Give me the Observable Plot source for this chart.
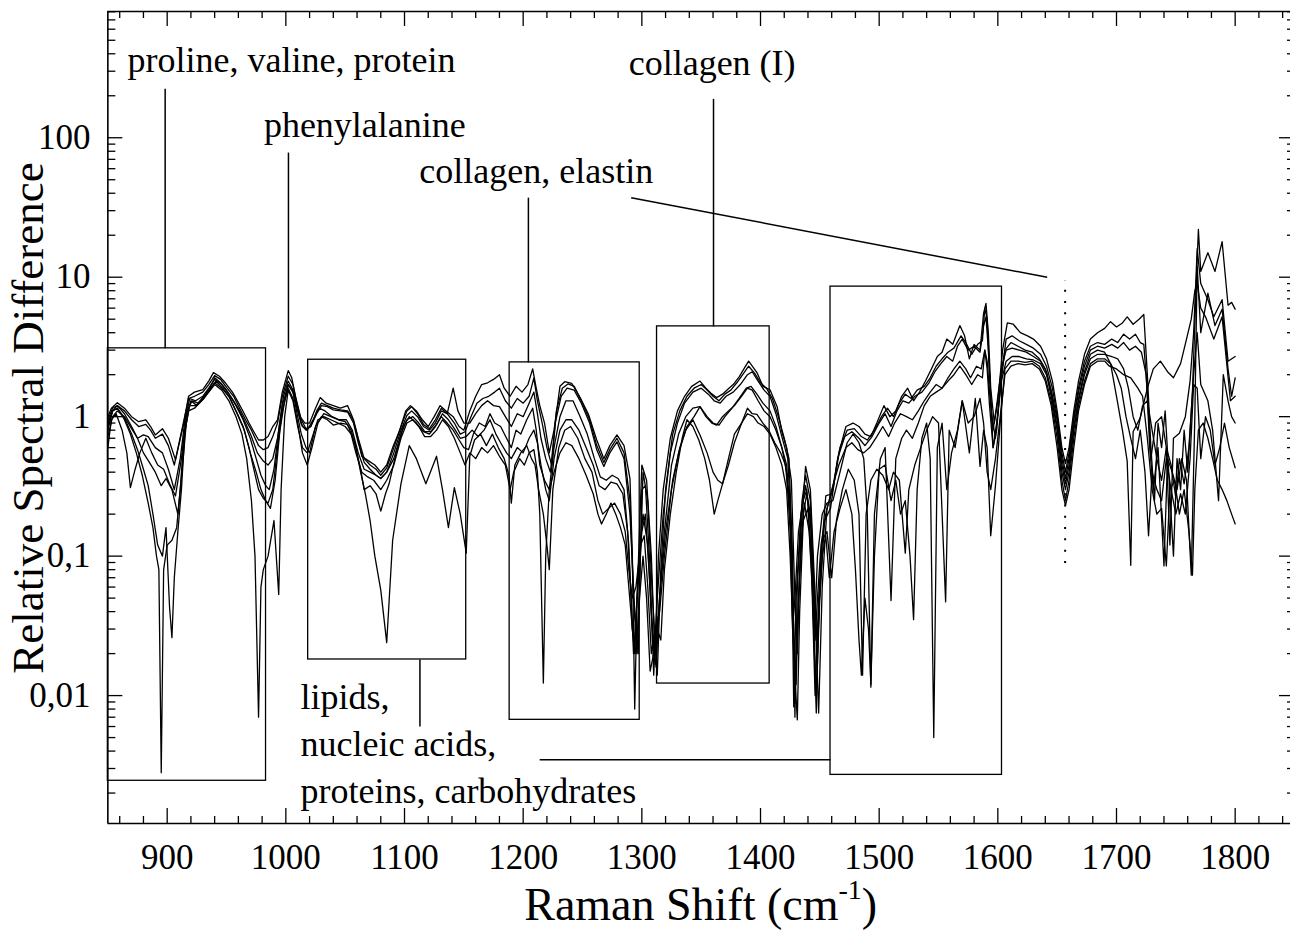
<!DOCTYPE html>
<html><head><meta charset="utf-8">
<script src="https://cdn.jsdelivr.net/npm/d3@7"></script>
<script src="https://cdn.jsdelivr.net/npm/@observablehq/plot@0.6"></script>
<style>html,body{margin:0;padding:0;background:#fff;overflow:hidden;width:1290px} #chart{width:1290px} #chart svg{overflow:hidden;display:block;font-family:"Liberation Serif","Times New Roman",serif}</style>
</head><body><div id="chart"></div>
<script>
// ---- spectra: [Raman shift (cm-1), relative spectral difference] ----
const s1 = [[850,1.0],[853,1.15],[858,1.26],[864,1.15],[870,1.0],[876,0.92],[882,0.95],[886,0.85],[890,0.74],[896,0.82],[901,0.7],[907,0.49],[914,0.9],[918,1.4],[923,1.5],[930,1.56],[935,1.8],[939,2.07],[944,1.95],[949,1.75],[955,1.5],[960,1.26],[965,1.05],[969,0.9],[973,0.78],[977,0.68],[981,0.68],[985,0.72],[989,0.85],[993,0.95],[997,1.5],[1002,2.14],[1005,1.9],[1008,1.4],[1012,1.0],[1016,0.9],[1020,0.9],[1025,1.15],[1029,1.37],[1034,1.25],[1040,1.2],[1046,1.15],[1052,1.2],[1056,1.0],[1060,0.75],[1064,0.52],[1070,0.48],[1075,0.45],[1080,0.4],[1085,0.45],[1090,0.6],[1096,0.8],[1101,1.1],[1105,1.2],[1110,1.1],[1115,0.95],[1120,0.85],[1125,1.0],[1130,1.2],[1135,1.1],[1141,1.0],[1146,0.85],[1150,0.8],[1155,1.1],[1160,1.4],[1165,1.7],[1170,1.75],[1175,1.85],[1180,2.0],[1184,1.6],[1189,1.4],[1194,1.65],[1199,1.5],[1204,1.7],[1208,2.2],[1211,1.6],[1214,1.2],[1218,0.9],[1222,0.55],[1226,0.8],[1231,1.65],[1235,1.78],[1241,1.73],[1248,1.37],[1255,1.04],[1262,0.68],[1268,0.5],[1273,0.62],[1279,0.74],[1285,0.62],[1290,0.36],[1292,0.1],[1294,0.008],[1296,0.05],[1300,0.45],[1304,0.35],[1308,0.1],[1311,0.02],[1314,0.1],[1318,0.3],[1324,0.7],[1330,1.1],[1336,1.4],[1342,1.65],[1349,1.8],[1354,1.6],[1358,1.48],[1363,1.37],[1368,1.45],[1372,1.56],[1377,1.7],[1382,1.93],[1386,2.2],[1390,2.5],[1394,2.25],[1397,2.07],[1402,1.65],[1408,1.56],[1414,1.18],[1418,0.78],[1422,0.6],[1426,0.35],[1429,0.05],[1431,0.02],[1434,0.15],[1438,0.44],[1442,0.3],[1445,0.08],[1448,0.02],[1451,0.1],[1455,0.27],[1460,0.28],[1466,0.55],[1472,0.85],[1478,0.9],[1483,0.85],[1488,0.75],[1493,0.72],[1498,0.9],[1504,1.2],[1509,1.0],[1514,1.1],[1519,1.4],[1524,1.6],[1529,1.3],[1534,1.5],[1539,1.8],[1544,2.2],[1549,2.7],[1553,2.9],[1557,3.6],[1562,3.3],[1568,4.5],[1572,3.8],[1576,2.6],[1580,3.3],[1585,3.0],[1588,5.5],[1590,6.5],[1592,4.0],[1594,1.6],[1597,0.9],[1600,1.3],[1604,3.0],[1608,4.7],[1613,4.6],[1619,4.0],[1625,3.8],[1630,3.6],[1636,3.2],[1641,2.6],[1646,1.8],[1650,1.1],[1654,0.6],[1657,0.46],[1660,0.6],[1664,1.1],[1668,1.8],[1673,2.8],[1678,3.6],[1684,4.0],[1690,4.3],[1695,4.8],[1700,4.4],[1705,4.7],[1709,5.2],[1714,4.6],[1719,5.0],[1723,5.4],[1726,2.0],[1729,0.6],[1732,0.25],[1735,0.9],[1738,0.6],[1741,1.1],[1744,0.4],[1748,0.1],[1751,0.5],[1754,0.3],[1757,0.8],[1760,0.4],[1764,1.5],[1767,8],[1769,22],[1771,11],[1777,15],[1783,11],[1789,18],[1794,6.3],[1797,6.6],[1800,5.9]];

const s2 = [[850,0.85],[854,1.1],[858,1.2],[864,1.1],[870,0.95],[876,0.85],[882,0.88],[886,0.8],[890,0.7],[896,0.75],[901,0.62],[906,0.45],[913,0.85],[918,1.35],[923,1.4],[930,1.5],[935,1.7],[940,1.97],[945,1.85],[950,1.62],[956,1.4],[961,1.15],[966,0.95],[971,0.8],[977,0.62],[981,0.58],[985,0.6],[989,0.72],[993,0.9],[997,1.4],[1002,1.95],[1006,1.7],[1009,1.3],[1013,0.95],[1017,0.82],[1021,0.85],[1026,1.1],[1030,1.25],[1035,1.2],[1040,1.15],[1046,1.12],[1052,1.1],[1057,0.95],[1061,0.7],[1066,0.5],[1071,0.45],[1076,0.42],[1080,0.38],[1085,0.43],[1091,0.6],[1097,0.85],[1102,1.1],[1106,1.18],[1111,1.05],[1116,0.88],[1121,0.82],[1126,0.95],[1131,1.15],[1136,1.05],[1142,0.9],[1147,0.75],[1151,0.78],[1156,1.0],[1161,1.25],[1166,1.35],[1171,1.4],[1176,1.5],[1180,1.6],[1185,1.3],[1190,1.15],[1195,1.35],[1200,1.25],[1205,1.4],[1209,1.9],[1212,1.3],[1216,0.9],[1220,0.6],[1224,0.45],[1228,1.1],[1233,1.6],[1238,1.72],[1243,1.65],[1249,1.3],[1256,0.95],[1262,0.62],[1268,0.47],[1273,0.58],[1279,0.7],[1285,0.55],[1290,0.25],[1293,0.05],[1296,0.02],[1298,0.06],[1301,0.4],[1305,0.25],[1309,0.05],[1313,0.014],[1316,0.08],[1320,0.3],[1326,0.75],[1332,1.1],[1338,1.4],[1344,1.6],[1350,1.7],[1355,1.55],[1360,1.4],[1365,1.3],[1370,1.45],[1375,1.55],[1380,1.75],[1385,2.0],[1390,2.3],[1395,2.05],[1400,1.75],[1405,1.6],[1410,1.35],[1415,1.0],[1420,0.7],[1424,0.5],[1427,0.1],[1429,0.007],[1431,0.06],[1435,0.25],[1438,0.38],[1442,0.25],[1446,0.04],[1449,0.0075],[1452,0.06],[1456,0.22],[1461,0.3],[1467,0.6],[1473,0.8],[1479,0.82],[1485,0.72],[1490,0.68],[1496,0.8],[1502,1.0],[1507,1.15],[1512,1.0],[1517,1.25],[1522,1.45],[1527,1.35],[1532,1.55],[1538,1.65],[1543,1.9],[1548,2.3],[1553,2.6],[1558,2.9],[1563,3.1],[1569,3.8],[1573,3.4],[1578,2.8],[1583,3.3],[1587,3.5],[1589,6.0],[1591,5.0],[1593,2.0],[1596,0.6],[1599,0.8],[1603,2.0],[1607,3.6],[1612,3.8],[1618,3.5],[1624,3.3],[1630,3.1],[1636,2.8],[1641,2.3],[1646,1.6],[1650,1.0],[1654,0.55],[1657,0.4],[1660,0.55],[1664,1.0],[1668,1.6],[1673,2.5],[1678,3.2],[1684,3.4],[1690,3.3],[1696,3.6],[1701,3.4],[1706,3.9],[1711,3.6],[1716,3.9],[1720,3.4],[1723,3.3],[1726,1.5],[1729,0.5],[1733,0.9],[1738,1.0],[1742,0.6],[1745,0.12],[1748,0.7],[1753,0.76],[1758,1.0],[1762,1.8],[1765,4],[1768,16],[1771,9],[1777,6.9],[1782,5.2],[1789,6.9],[1794,2.5],[1800,2.7]];

const s3 = [[850,0.72],[854,1.0],[858,1.1],[864,1.0],[870,0.82],[875,0.7],[880,0.74],[884,0.72],[890,0.6],[896,0.55],[901,0.42],[906,0.3],[911,0.5],[915,0.95],[919,1.35],[924,1.3],[930,1.4],[935,1.6],[940,1.85],[946,1.7],[952,1.45],[958,1.2],[964,0.95],[970,0.7],[975,0.5],[979,0.38],[983,0.32],[986,0.3],[990,0.42],[994,0.8],[998,1.4],[1002,1.8],[1006,1.55],[1009,1.2],[1013,0.88],[1017,0.8],[1021,0.85],[1026,1.05],[1030,1.2],[1035,1.18],[1040,1.12],[1046,1.1],[1052,1.08],[1057,0.9],[1061,0.65],[1066,0.47],[1071,0.42],[1076,0.38],[1080,0.36],[1085,0.4],[1091,0.55],[1097,0.8],[1102,1.02],[1106,1.1],[1111,1.0],[1116,0.85],[1121,0.8],[1126,0.9],[1131,1.1],[1136,1.05],[1141,1.6],[1145,1.1],[1150,0.9],[1155,0.9],[1160,1.05],[1165,1.2],[1170,1.3],[1175,1.2],[1180,1.18],[1185,1.0],[1190,0.85],[1195,1.05],[1200,1.0],[1205,1.25],[1209,1.5],[1212,1.05],[1215,0.7],[1219,0.5],[1223,0.4],[1227,0.9],[1232,1.4],[1237,1.6],[1243,1.55],[1249,1.25],[1256,0.9],[1262,0.58],[1268,0.44],[1273,0.55],[1279,0.66],[1285,0.5],[1290,0.2],[1294,0.04],[1297,0.02],[1300,0.3],[1303,0.32],[1307,0.08],[1310,0.014],[1313,0.05],[1318,0.2],[1324,0.55],[1330,0.9],[1336,1.25],[1343,1.5],[1350,1.6],[1356,1.45],[1361,1.3],[1366,1.25],[1371,1.4],[1377,1.5],[1383,1.7],[1389,2.0],[1393,2.1],[1398,1.8],[1403,1.55],[1408,1.4],[1413,1.05],[1418,0.72],[1423,0.5],[1426,0.15],[1428,0.0083],[1430,0.05],[1434,0.2],[1438,0.32],[1442,0.2],[1445,0.03],[1447,0.01],[1450,0.05],[1454,0.18],[1459,0.22],[1465,0.5],[1471,0.72],[1477,0.78],[1483,0.7],[1488,0.62],[1494,0.72],[1500,0.9],[1505,1.05],[1510,0.85],[1515,1.1],[1520,1.3],[1525,1.25],[1530,1.4],[1536,1.5],[1542,1.75],[1547,2.1],[1552,2.4],[1557,2.7],[1562,2.5],[1566,3.2],[1570,3.6],[1575,3.0],[1580,3.2],[1585,2.9],[1588,4.5],[1590,5.2],[1592,3.0],[1595,1.0],[1598,0.7],[1602,1.6],[1606,3.0],[1611,3.4],[1617,3.2],[1623,3.0],[1629,2.9],[1635,2.6],[1640,2.2],[1645,1.55],[1650,0.95],[1654,0.5],[1657,0.36],[1660,0.5],[1664,0.95],[1668,1.5],[1673,2.3],[1678,3.0],[1684,3.2],[1690,3.1],[1696,3.3],[1701,3.1],[1706,3.4],[1711,3.0],[1716,3.2],[1721,2.9],[1725,2.0],[1728,0.6],[1731,0.3],[1735,0.6],[1740,0.085],[1743,0.5],[1747,0.4],[1751,0.3],[1755,0.5],[1759,0.35],[1763,0.073],[1766,1.0],[1768,12],[1771,4.0],[1777,7.7],[1783,4.5],[1789,5.9],[1794,2.2],[1797,1.4],[1800,1.9]];

const s4 = [[850,0.6],[853,0.95],[857,1.05],[862,0.8],[866,0.55],[869,0.31],[873,0.42],[877,0.55],[882,0.7],[887,0.55],[892,0.45],[897,0.42],[902,0.33],[907,0.27],[912,0.5],[916,1.0],[920,1.3],[925,1.2],[931,1.35],[936,1.55],[941,1.8],[947,1.6],[953,1.35],[959,1.05],[965,0.8],[970,0.55],[975,0.4],[979,0.3],[983,0.25],[987,0.22],[991,0.35],[995,0.8],[999,1.3],[1002,1.7],[1006,1.5],[1009,1.1],[1013,0.75],[1017,0.6],[1020,0.55],[1025,0.85],[1030,1.0],[1035,0.95],[1040,0.87],[1046,0.9],[1052,0.88],[1058,0.65],[1063,0.42],[1066,0.3],[1071,0.32],[1076,0.28],[1080,0.21],[1084,0.28],[1087,0.33],[1093,0.55],[1099,0.85],[1104,1.0],[1110,0.9],[1116,0.78],[1121,0.75],[1126,0.85],[1131,1.0],[1136,0.9],[1141,0.8],[1146,0.68],[1150,0.6],[1154,0.58],[1158,0.75],[1163,0.9],[1168,0.85],[1172,1.05],[1176,0.9],[1181,0.85],[1186,0.7],[1190,0.6],[1194,0.8],[1198,0.75],[1203,0.95],[1208,1.15],[1211,0.8],[1214,0.45],[1218,0.35],[1222,0.3],[1226,0.6],[1231,1.0],[1236,1.3],[1242,1.3],[1248,1.0],[1254,0.75],[1260,0.5],[1265,0.37],[1270,0.35],[1275,0.38],[1280,0.36],[1285,0.3],[1289,0.12],[1292,0.03],[1294,0.02],[1297,0.08],[1301,0.2],[1305,0.12],[1308,0.04],[1311,0.018],[1314,0.04],[1319,0.15],[1325,0.45],[1331,0.75],[1337,1.0],[1343,1.15],[1349,1.18],[1355,1.0],[1360,0.9],[1365,0.87],[1370,1.0],[1376,1.15],[1382,1.35],[1388,1.6],[1392,1.65],[1397,1.45],[1402,1.25],[1408,1.1],[1413,0.85],[1418,0.6],[1422,0.45],[1425,0.2],[1428,0.03],[1430,0.012],[1432,0.05],[1436,0.2],[1439,0.28],[1443,0.15],[1446,0.025],[1448,0.05],[1451,0.12],[1455,0.2],[1460,0.3],[1466,0.45],[1472,0.6],[1477,0.65],[1482,0.58],[1487,0.55],[1492,0.6],[1498,0.72],[1503,0.85],[1508,0.72],[1513,0.9],[1518,1.05],[1523,1.0],[1528,0.95],[1533,1.1],[1538,1.3],[1543,1.5],[1548,1.7],[1553,1.6],[1558,1.9],[1563,2.2],[1568,2.5],[1573,2.2],[1577,1.9],[1582,2.3],[1586,2.2],[1589,3.0],[1591,2.5],[1593,1.5],[1596,0.8],[1599,1.2],[1603,2.2],[1607,3.0],[1612,3.1],[1618,3.0],[1624,2.9],[1630,2.7],[1636,2.5],[1641,2.1],[1645,1.5],[1650,0.85],[1654,0.45],[1657,0.33],[1660,0.45],[1664,0.85],[1668,1.35],[1673,2.1],[1678,2.8],[1684,3.0],[1690,2.9],[1695,2.4],[1700,1.4],[1705,0.8],[1709,0.48],[1712,0.086],[1714,0.78],[1720,0.98],[1726,1.6],[1731,2.2],[1737,2.5],[1743,2.1],[1748,1.9],[1754,2.4],[1759,3.6],[1763,5],[1766,8],[1768,9],[1771,6],[1775,5.2],[1782,3.6],[1789,5.2],[1796,1.3],[1800,1.4]];

const s5 = [[850,0.95],[854,1.15],[858,1.2],[864,1.05],[870,0.85],[875,0.7],[880,0.55],[885,0.47],[890,0.4],[895,0.32],[899,0.36],[904,0.3],[909,0.2],[913,0.45],[917,1.1],[921,1.3],[926,1.25],[931,1.4],[936,1.6],[940,1.9],[945,1.75],[950,1.55],[956,1.3],[961,1.1],[966,0.9],[971,0.72],[976,0.55],[981,0.48],[985,0.45],[989,0.5],[993,0.7],[997,1.2],[1002,1.7],[1006,1.5],[1010,1.1],[1014,0.85],[1018,0.8],[1023,0.95],[1028,1.15],[1033,1.1],[1039,1.0],[1045,0.95],[1051,0.95],[1056,0.8],[1061,0.55],[1066,0.42],[1071,0.4],[1076,0.38],[1080,0.36],[1085,0.4],[1091,0.5],[1097,0.75],[1102,0.95],[1107,1.0],[1112,0.9],[1117,0.78],[1122,0.78],[1127,0.88],[1132,1.05],[1137,0.95],[1142,0.82],[1147,0.7],[1152,0.72],[1157,0.8],[1162,0.72],[1167,0.8],[1172,0.95],[1177,0.75],[1181,0.65],[1186,0.55],[1190,0.5],[1195,0.6],[1200,0.55],[1205,0.7],[1209,0.8],[1212,0.65],[1215,0.45],[1219,0.3],[1222,0.25],[1226,0.5],[1231,0.8],[1236,0.95],[1241,0.95],[1247,0.8],[1253,0.6],[1259,0.45],[1264,0.32],[1269,0.3],[1274,0.34],[1279,0.33],[1284,0.28],[1288,0.15],[1291,0.05],[1293,0.02],[1296,0.05],[1300,0.15],[1303,0.2],[1306,0.08],[1309,0.025],[1312,0.016],[1315,0.05],[1320,0.15],[1326,0.35],[1332,0.6],[1338,0.85],[1344,1.0],[1349,1.18],[1354,1.0],[1359,0.9],[1363,0.87],[1368,1.0],[1373,1.1],[1378,1.2],[1384,1.4],[1389,1.6],[1393,1.55],[1398,1.3],[1403,1.1],[1408,1.0],[1413,0.8],[1418,0.6],[1422,0.4],[1425,0.15],[1427,0.03],[1429,0.05],[1432,0.15],[1436,0.25],[1439,0.3],[1443,0.1],[1446,0.037],[1448,0.1],[1452,0.2],[1456,0.24],[1461,0.25],[1467,0.4],[1473,0.65],[1478,0.75],[1483,0.65],[1487,0.5],[1490,0.2],[1493,0.0115],[1496,0.2],[1501,0.5],[1505,0.6],[1510,0.048],[1514,0.5],[1519,0.7],[1523,0.8],[1528,0.7],[1533,0.9],[1538,1.2],[1543,1.4],[1548,1.5],[1553,1.6],[1558,1.8],[1563,2.0],[1568,2.3],[1573,2.0],[1578,1.7],[1583,2.0],[1587,1.9],[1589,3.0],[1591,2.2],[1593,1.2],[1596,0.6],[1599,0.9],[1603,1.8],[1607,2.5],[1612,2.7],[1618,2.7],[1624,2.6],[1630,2.55],[1636,2.4],[1641,2.0],[1645,1.4],[1650,0.8],[1654,0.4],[1657,0.3],[1660,0.4],[1664,0.8],[1668,1.3],[1673,2.0],[1678,2.6],[1684,2.8],[1690,2.8],[1696,2.7],[1701,2.6],[1706,2.2],[1710,1.6],[1714,1.0],[1718,0.8],[1722,1.2],[1726,1.3],[1730,0.8],[1734,0.5],[1738,0.35],[1742,0.6],[1746,0.45],[1750,0.26],[1753,0.5],[1757,0.33],[1761,0.6],[1765,2.0],[1768,4.0],[1771,1.7],[1777,1.3],[1781,0.8],[1786,0.25],[1790,2.0],[1794,1.3],[1797,1.0],[1800,0.9]];

const s6 = [[850,0.8],[854,1.1],[858,1.15],[864,0.98],[870,0.75],[875,0.58],[880,0.42],[884,0.32],[888,0.2],[892,0.12],[896,0.1],[899,0.16],[902,0.043],[904,0.026],[906,0.07],[909,0.15],[912,0.3],[915,0.8],[919,1.2],[924,1.2],[930,1.35],[935,1.55],[940,1.75],[946,1.6],[952,1.4],[958,1.1],[964,0.85],[969,0.6],[973,0.42],[977,0.3],[981,0.26],[985,0.24],[989,0.3],[993,0.6],[997,1.1],[1002,1.6],[1006,1.35],[1010,0.9],[1014,0.55],[1018,0.45],[1022,0.6],[1027,0.9],[1032,1.05],[1038,1.0],[1044,0.95],[1050,0.92],[1055,0.8],[1059,0.6],[1063,0.4],[1067,0.28],[1071,0.18],[1075,0.1],[1080,0.057],[1085,0.024],[1090,0.13],[1097,0.33],[1104,0.62],[1110,0.5],[1118,0.33],[1127,0.52],[1132,0.3],[1137,0.16],[1142,0.31],[1147,0.2],[1152,0.105],[1155,0.52],[1159,0.68],[1164,0.75],[1169,0.62],[1174,0.75],[1179,0.6],[1184,0.5],[1188,0.38],[1190,0.24],[1193,0.45],[1198,0.55],[1203,0.62],[1207,0.5],[1210,0.45],[1213,0.3],[1217,0.2],[1220,0.12],[1222,0.08],[1225,0.3],[1230,0.6],[1235,0.8],[1240,0.85],[1246,0.7],[1252,0.5],[1258,0.4],[1263,0.25],[1267,0.2],[1272,0.22],[1277,0.24],[1282,0.2],[1286,0.15],[1289,0.08],[1292,0.05],[1295,0.06],[1299,0.12],[1302,0.14],[1305,0.06],[1308,0.02],[1311,0.03],[1315,0.04],[1319,0.1],[1325,0.3],[1331,0.55],[1337,0.8],[1343,0.95],[1349,0.74],[1355,0.55],[1360,0.4],[1364,0.35],[1368,0.33],[1373,0.5],[1378,0.75],[1384,0.9],[1389,1.05],[1394,1.0],[1398,0.9],[1403,0.85],[1408,0.75],[1413,0.6],[1418,0.45],[1422,0.3],[1425,0.1],[1428,0.02],[1431,0.0067],[1433,0.04],[1436,0.18],[1440,0.22],[1443,0.08],[1446,0.01],[1449,0.05],[1452,0.13],[1456,0.15],[1460,0.07],[1464,0.18],[1469,0.3],[1474,0.42],[1479,0.35],[1483,0.2],[1486,0.014],[1489,0.2],[1493,0.35],[1498,0.42],[1503,0.38],[1508,0.3],[1512,0.4],[1517,0.35],[1522,0.105],[1525,0.3],[1530,0.45],[1535,0.6],[1540,0.8],[1545,1.0],[1550,0.9],[1556,0.047],[1559,0.8],[1564,0.6],[1570,1.3],[1576,0.55],[1581,1.35],[1585,0.44],[1588,0.8],[1591,0.6],[1594,0.14],[1598,0.32],[1602,0.9],[1606,2.2],[1611,2.5],[1617,2.5],[1623,2.45],[1629,2.5],[1635,2.3],[1640,1.9],[1645,1.3],[1650,0.7],[1654,0.35],[1657,0.25],[1660,0.35],[1664,0.7],[1668,1.2],[1673,1.8],[1678,2.4],[1684,2.6],[1690,2.6],[1695,2.4],[1700,2.0],[1704,1.6],[1708,1.0],[1712,0.7],[1716,0.5],[1720,0.8],[1724,0.4],[1727,0.14],[1730,0.4],[1734,0.3],[1738,0.25],[1742,0.5],[1746,0.3],[1750,0.2],[1754,0.28],[1758,0.2],[1762,0.5],[1765,1.7],[1768,1.6],[1771,0.5],[1775,1.0],[1779,0.8],[1783,0.45],[1787,0.6],[1791,0.9],[1795,0.6],[1800,0.43]];

const s7 = [[850,0.9],[854,1.1],[858,1.15],[864,0.95],[869,0.75],[874,0.55],[879,0.38],[884,0.24],[888,0.16],[891,0.1],[893,0.08],[895,0.0028],[897,0.08],[900,0.12],[904,0.13],[908,0.16],[911,0.3],[914,0.7],[918,1.1],[923,1.15],[929,1.3],[935,1.5],[940,1.7],[946,1.55],[952,1.3],[958,1.0],[963,0.75],[967,0.5],[971,0.25],[974,0.1],[977,0.007],[979,0.06],[981,0.08],[985,0.1],[990,0.18],[994,0.053],[996,0.3],[999,1.0],[1002,1.55],[1006,1.3],[1010,0.85],[1014,0.6],[1018,0.55],[1022,0.7],[1027,0.95],[1032,1.0],[1038,0.95],[1044,0.9],[1050,0.85],[1055,0.75],[1059,0.55],[1064,0.4],[1069,0.37],[1074,0.35],[1080,0.3],[1085,0.35],[1091,0.45],[1097,0.7],[1102,0.9],[1107,0.95],[1112,0.85],[1117,0.72],[1122,0.72],[1127,0.8],[1132,0.95],[1137,0.85],[1142,0.7],[1147,0.55],[1151,0.45],[1155,0.55],[1160,0.5],[1165,0.6],[1170,0.55],[1175,0.62],[1180,0.52],[1185,0.45],[1189,0.3],[1192,0.4],[1197,0.5],[1201,0.45],[1205,0.55],[1209,0.58],[1212,0.4],[1214,0.2],[1217,0.0123],[1219,0.1],[1222,0.3],[1226,0.4],[1231,0.55],[1236,0.65],[1241,0.62],[1247,0.5],[1253,0.38],[1259,0.28],[1263,0.2],[1266,0.17],[1270,0.2],[1274,0.24],[1278,0.2],[1282,0.16],[1286,0.12],[1289,0.06],[1292,0.03],[1295,0.02],[1298,0.05],[1301,0.1],[1304,0.05],[1307,0.015],[1310,0.02],[1313,0.03],[1316,0.025],[1319,0.08],[1324,0.2],[1329,0.4],[1334,0.7],[1338,0.95],[1343,0.85],[1348,0.68],[1353,0.5],[1357,0.35],[1361,0.2],[1364,0.25],[1368,0.33],[1373,0.45],[1378,0.65],[1383,0.85],[1389,1.15],[1393,1.05],[1397,1.04],[1402,0.9],[1407,0.8],[1412,0.65],[1417,0.55],[1421,0.45],[1425,0.2],[1427,0.05],[1429,0.0088],[1431,0.03],[1434,0.12],[1437,0.24],[1441,0.15],[1444,0.05],[1447,0.0075],[1449,0.04],[1452,0.1],[1455,0.14],[1458,0.07],[1462,0.15],[1467,0.22],[1472,0.3],[1477,0.2],[1480,0.08],[1483,0.025],[1485,0.014],[1488,0.05],[1491,0.03],[1493,0.012],[1496,0.1],[1500,0.42],[1505,0.45],[1510,0.25],[1514,0.35],[1518,0.2],[1522,0.25],[1526,0.1],[1529,0.035],[1532,0.3],[1536,0.7],[1540,0.9],[1543,0.5],[1546,0.005],[1549,0.6],[1553,0.9],[1557,0.3],[1561,0.55],[1566,0.8],[1570,1.3],[1575,0.9],[1580,1.0],[1585,1.35],[1588,0.9],[1591,0.4],[1594,0.3],[1598,0.5],[1602,1.0],[1606,2.0],[1611,2.3],[1617,2.4],[1623,2.35],[1629,2.4],[1635,2.2],[1640,1.8],[1645,1.2],[1650,0.6],[1654,0.3],[1657,0.23],[1660,0.3],[1664,0.6],[1668,1.1],[1673,1.7],[1678,2.3],[1684,2.5],[1690,2.5],[1694,2.3],[1700,2.2],[1706,2.0],[1712,1.9],[1718,1.6],[1722,1.4],[1726,0.7],[1730,0.3],[1734,0.2],[1738,0.22],[1742,0.085],[1745,0.3],[1749,0.35],[1753,0.2],[1757,0.3],[1761,0.15],[1764,0.073],[1766,0.3],[1769,0.8],[1773,0.9],[1777,0.7],[1781,0.5],[1785,0.35],[1789,0.3],[1793,0.25],[1797,0.2],[1800,0.17]];

const seriesNames = ["s1","s2","s3","s4","s5","s6","s7"];
const seriesData = [s1,s2,s3,s4,s5,s6,s7];

// ---- axes ----
const xDomain = [850, 1850];
const yDomain = [0.00121, 804];
const xMajorTicks = [900,1000,1100,1200,1300,1400,1500,1600,1700,1800];
const xMinorTicks = [860,880,920,940,960,980,1020,1040,1060,1080,1120,1140,1160,1180,1220,1240,1260,1280,1320,1340,1360,1380,1420,1440,1460,1480,1520,1540,1560,1580,1620,1640,1660,1680,1720,1740,1760,1780,1820,1840];
const yMajorTicks = [0.01,0.1,1,10,100];
const yMajorLabels = ["0,01","0,1","1","10","100"];
const yMinorTicks = [0.002,0.003,0.004,0.005,0.006,0.007,0.008,0.009,0.02,0.03,0.04,0.05,0.06,0.07,0.08,0.09,0.2,0.3,0.4,0.5,0.6,0.7,0.8,0.9,2,3,4,5,6,7,8,9,20,30,40,50,60,70,80,90,200,300,400,500,600,700,800];

// ---- annotations ----
const boxX1 = [850, 1018.8, 1188.6, 1312.8, 1459];
const boxX2 = [983.3, 1152, 1298.2, 1407.7, 1603.5];
const boxY1 = [0.00245, 0.01815, 0.0067, 0.0122, 0.0027];
const boxY2 = [3.09, 2.56, 2.45, 4.44, 8.56];

const leaderX1 = [898.3, 1002.2, 1113, 1204.4, 1360.4, 1291, 1213.9];
const leaderY1 = [225, 78.3, 0.01815, 37.2, 190, 37.2, 0.00346];
const leaderX2 = [898.3, 1002.2, 1113, 1204.4, 1360.4, 1641.6, 1459];
const leaderY2 = [3.09, 3.09, 0.0060, 2.45, 4.44, 9.98, 0.00346];

const dottedX = [1656.7];
const dottedY1 = [0.0886];
const dottedY2 = [9.45];

const labelText = ["proline, valine, protein","phenylalanine","collagen, elastin","collagen (I)","lipids,","nucleic acids,","proteins, carbohydrates"];
const labelX = [866.6, 981.5, 1112.5, 1288.9, 1012.3, 1012.3, 1012.3];
const labelY = [295, 102, 47.2, 284, 0.0080, 0.0037, 0.00171];

// ---- build tables ----
const spectra = seriesData.flatMap((s, i) => s.map(([x, y]) => ({series: seriesNames[i], shift: x, value: y})));
const boxes = boxX1.map((d, i) => ({x1: d, x2: boxX2[i], y1: boxY1[i], y2: boxY2[i]}));
const leaders = leaderX1.map((d, i) => ({x1: d, y1: leaderY1[i], x2: leaderX2[i], y2: leaderY2[i]}));
const dotted = dottedX.map((d, i) => ({x: d, y1: dottedY1[i], y2: dottedY2[i]}));
const labels = labelText.map((t, i) => ({text: t, x: labelX[i], y: labelY[i]}));

const W = 1290, H = 930, mL = 107, mR = 0, mT = 11, mB = 107;
const xLeft = 107.35, xRight = 1294; // right frame edge lies just outside the picture
const pH = H - mT - mB;
const pxPerUnit = (xRight - xLeft) / (xDomain[1] - xDomain[0]);
const FONT = "Liberation Serif";

const chart = Plot.plot({
  width: W, height: H,
  marginLeft: mL, marginRight: mR, marginTop: mT, marginBottom: mB,
  x: {domain: xDomain, range: [xLeft, xRight], axis: null},
  y: {type: "log", domain: yDomain, axis: null},
  style: {fontFamily: FONT, background: "white", color: "black"},
  marks: [
    Plot.line(spectra, {x: "shift", y: "value", z: "series", stroke: "black", strokeWidth: 1.3, curve: "linear"}),
    Plot.rect(boxes, {x1: "x1", x2: "x2", y1: "y1", y2: "y2", fill: "none", stroke: "black", strokeWidth: 1.3}),
    Plot.link(leaders, {x1: "x1", y1: "y1", x2: "x2", y2: "y2", stroke: "black", strokeWidth: 1.5}),
    Plot.ruleX(dotted, {x: "x", y1: "y1", y2: "y2", stroke: "black", strokeWidth: 2, strokeDasharray: "2,9.3"}),
    Plot.text(labels, {x: "x", y: "y", text: "text", textAnchor: "start", lineAnchor: "bottom", fontSize: 36, fontFamily: FONT, fill: "black"}),
    // ticks (inward): bottom/top on x, left/right on y
    Plot.ruleX(xMajorTicks, {x: d => d, insetTop: pH - 15, stroke: "black", strokeWidth: 1.3}),
    Plot.ruleX(xMinorTicks, {x: d => d, insetTop: pH - 7, stroke: "black", strokeWidth: 1.3}),
    Plot.ruleX(xMajorTicks, {x: d => d, insetBottom: pH - 15, stroke: "black", strokeWidth: 1.3}),
    Plot.ruleX(xMinorTicks, {x: d => d, insetBottom: pH - 7, stroke: "black", strokeWidth: 1.3}),
    Plot.ruleY(yMajorTicks, {y: d => d, x1: xDomain[0], x2: xDomain[0] + 15 / pxPerUnit, stroke: "black", strokeWidth: 1.3}),
    Plot.ruleY(yMinorTicks, {y: d => d, x1: xDomain[0], x2: xDomain[0] + 8 / pxPerUnit, stroke: "black", strokeWidth: 1.3}),
    Plot.ruleY(yMajorTicks, {y: d => d, x1: xDomain[1] - 15 / pxPerUnit, x2: xDomain[1], stroke: "black", strokeWidth: 1.3}),
    Plot.ruleY(yMinorTicks, {y: d => d, x1: xDomain[1] - 7 / pxPerUnit, x2: xDomain[1], stroke: "black", strokeWidth: 1.3}),
    // frame: left axis line, top and bottom lines (the right one falls outside the picture)
    Plot.ruleX([xDomain[0]], {x: d => d, stroke: "black", strokeWidth: 1.6}),
    Plot.ruleY([yDomain[0], yDomain[1]], {y: d => d, x1: xDomain[0], x2: xDomain[1], stroke: "black", strokeWidth: 1.6}),
    // tick labels
    Plot.text(xMajorTicks, {x: d => d, frameAnchor: "bottom", dy: 45.5, lineAnchor: "bottom", text: d => String(d), fontSize: 35, fontFamily: FONT, fill: "black"}),
    Plot.text(yMajorTicks, {y: d => d, frameAnchor: "left", dx: -17, textAnchor: "end", lineAnchor: "middle", text: (d, i) => yMajorLabels[i], fontSize: 35, fontFamily: FONT, fill: "black"})
  ]
});

document.getElementById("chart").appendChild(chart);

// axis titles (with superscript) added into the same SVG
const svg = d3.select(chart);
const xt = svg.append("text")
  .attr("x", (xLeft + xRight) / 2).attr("y", 920)
  .attr("text-anchor", "middle")
  .attr("font-family", FONT).attr("font-size", 46).attr("fill", "black");
xt.append("tspan").text("Raman Shift (cm");
xt.append("tspan").attr("font-size", 28).attr("dy", -21).text("-1");
xt.append("tspan").attr("dy", 21).text(")");

svg.append("text")
  .attr("transform", `translate(43, 418) rotate(-90)`)
  .attr("text-anchor", "middle")
  .attr("font-family", FONT).attr("font-size", 45).attr("fill", "black")
  .text("Relative Spectral Difference");
</script>
</body></html>
